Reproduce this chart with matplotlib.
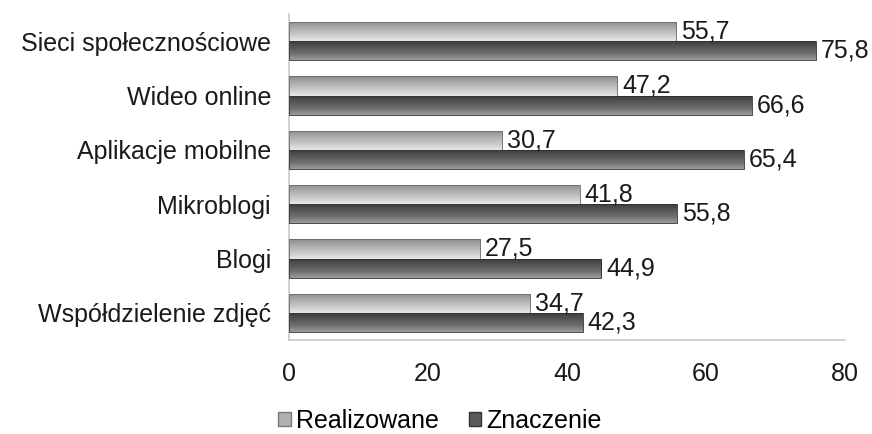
import matplotlib.pyplot as plt
import numpy as np
from matplotlib.colors import LinearSegmentedColormap
from matplotlib.patches import Patch

categories = ["Sieci społecznościowe", "Wideo online", "Aplikacje mobilne",
              "Mikroblogi", "Blogi", "Współdzielenie zdjęć"]
realizowane = [55.7, 47.2, 30.7, 41.8, 27.5, 34.7]
znaczenie = [75.8, 66.6, 65.4, 55.8, 44.9, 42.3]
series_names = ["Realizowane", "Znaczenie"]

plt.rcParams['font.family'] = ['Liberation Sans', 'DejaVu Sans']
FS = 18

light_cmap = LinearSegmentedColormap.from_list(
    "light", ["#e8e8e8", "#c8c8c8", "#adadad", "#8c8c8c"])
dark_cmap = LinearSegmentedColormap.from_list(
    "dark", ["#9c9c9c", "#6e6e6e", "#555555", "#3a3a3a"])
grad = np.linspace(0, 1, 64).reshape(-1, 1)


def gradient_bars(ax, bars, cmap):
    # vertical shading inside each bar, clipped to the bar rectangle
    for b in bars:
        x0, y0 = b.get_x(), b.get_y()
        w, h = b.get_width(), b.get_height()
        im = ax.imshow(grad, cmap=cmap, aspect='auto', origin='lower',
                       extent=(x0, x0 + w, y0 + h, y0), zorder=2,
                       interpolation='bilinear')
        im.set_clip_path(b)
        b.set_facecolor('none')


fig = plt.figure(figsize=(8.72, 4.34), dpi=100)
ax = fig.add_axes([289 / 872, 1 - 340 / 434, 556 / 872, 326 / 434])

y = np.arange(len(categories))
h = 0.35
bars_r = ax.barh(y - h / 2, realizowane, height=h, edgecolor='#6a6a6a',
                 linewidth=0.6, zorder=3)
bars_z = ax.barh(y + h / 2, znaczenie, height=h, edgecolor='#2e2e2e',
                 linewidth=0.6, zorder=3)
gradient_bars(ax, bars_r, light_cmap)
gradient_bars(ax, bars_z, dark_cmap)

for bars, vals in ((bars_r, realizowane), (bars_z, znaczenie)):
    for b, v in zip(bars, vals):
        ax.annotate(f"{v:.1f}".replace(".", ","),
                    (v, b.get_y() + b.get_height() / 2),
                    xytext=(3.5, 0), textcoords='offset points',
                    va='center', ha='left', fontsize=FS, color='#1a1a1a',
                    zorder=4)

ax.set_xlim(0, 80)
ax.set_ylim(len(categories) - 0.5, -0.5)
ax.set_xticks([0, 20, 40, 60, 80])
ax.set_yticks(y)
ax.set_yticklabels(categories)
ax.tick_params(axis='both', length=0, labelsize=FS, colors='#1a1a1a')
ax.tick_params(axis='x', pad=16)
ax.tick_params(axis='y', pad=13)
for s in ('top', 'right'):
    ax.spines[s].set_visible(False)
for s in ('left', 'bottom'):
    ax.spines[s].set_color('#c8c8c8')
    ax.spines[s].set_linewidth(1.2)

handles = [Patch(facecolor='#b0b0b0', edgecolor='#7a7a7a'),
           Patch(facecolor='#5a5a5a', edgecolor='#333333')]
fig.legend(handles, series_names, loc='center',
           bbox_to_anchor=(440 / 872, 1 - 421 / 434),
           ncol=2, frameon=False, fontsize=FS, handlelength=0.5,
           handleheight=0.5, handletextpad=0.2, columnspacing=1.2,
           borderpad=0.1)

fig.savefig("out.png", dpi=100)
